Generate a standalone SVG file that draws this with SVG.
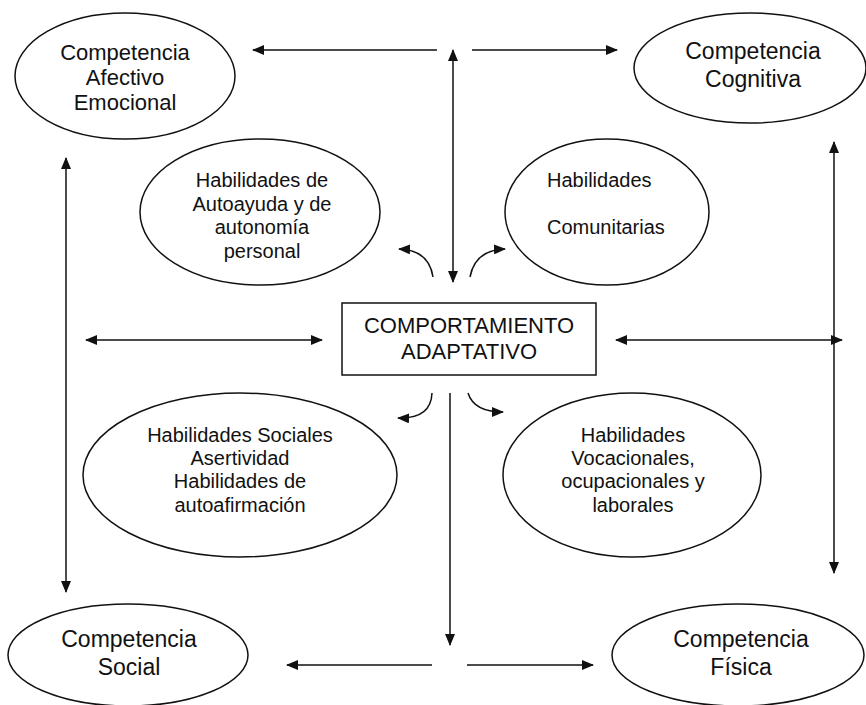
<svg xmlns="http://www.w3.org/2000/svg" width="866" height="705" viewBox="0 0 866 705">
<style>
.n ellipse,.n rect{fill:#fff;stroke:#111;stroke-width:1.5}
text{font-family:"Liberation Sans",Arial,sans-serif;fill:#111;text-anchor:middle}
text.st{text-anchor:start}
.big{font-size:23px}
.mid{font-size:20px}
#connectors path,#connectors line{fill:none;stroke:#111;stroke-width:1.5}
.d{marker-start:url(#ah);marker-end:url(#ah)}
.s{marker-end:url(#ah)}
</style>
<defs>
<marker id="ah" markerUnits="userSpaceOnUse" markerWidth="12" markerHeight="10" refX="11" refY="5" orient="auto-start-reverse" viewBox="0 0 12 10">
<path d="M0,0 L12,5 L0,10 z" fill="#111"/>
</marker>
</defs>
<rect width="866" height="705" fill="#fff"/>

<g id="afectivo" class="n">
<ellipse cx="125" cy="76" rx="110" ry="63"/>
<text x="125" y="60" font-size="22">Competencia</text>
<text x="125" y="85" font-size="22">Afectivo</text>
<text x="125" y="110" font-size="22">Emocional</text>
</g>

<g id="cognitiva" class="n">
<ellipse cx="750" cy="68" rx="116" ry="55"/>
<text class="big" x="753" y="59" font-size="23.5">Competencia</text>
<text class="big" x="753" y="87" font-size="23.5">Cognitiva</text>
</g>

<g id="autoayuda" class="n">
<ellipse cx="260" cy="212" rx="120" ry="73"/>
<text class="mid" x="262" y="187">Habilidades de</text>
<text class="mid" x="262" y="211">Autoayuda y de</text>
<text class="mid" x="262" y="234">autonomía</text>
<text class="mid" x="262" y="258">personal</text>
</g>

<g id="comunitarias" class="n">
<ellipse cx="607" cy="212" rx="102" ry="73"/>
<text class="mid st" x="547" y="187">Habilidades</text>
<text class="mid st" x="547" y="234">Comunitarias</text>
</g>

<g id="comportamiento" class="n">
<rect x="342" y="303" width="254" height="72"/>
<text x="469" y="333" font-size="22">COMPORTAMIENTO</text>
<text x="469" y="359" font-size="22">ADAPTATIVO</text>
</g>

<g id="sociales" class="n">
<ellipse cx="240" cy="475" rx="157" ry="82"/>
<text class="mid" x="240" y="442">Habilidades Sociales</text>
<text class="mid" x="240" y="465">Asertividad</text>
<text class="mid" x="240" y="488">Habilidades de</text>
<text class="mid" x="240" y="512">autoafirmación</text>
</g>

<g id="vocacionales" class="n">
<ellipse cx="632" cy="475" rx="129" ry="82"/>
<text class="mid" x="633" y="442">Habilidades</text>
<text class="mid" x="633" y="465">Vocacionales,</text>
<text class="mid" x="633" y="488">ocupacionales y</text>
<text class="mid" x="633" y="512">laborales</text>
</g>

<g id="social" class="n">
<ellipse cx="128" cy="655" rx="120" ry="51"/>
<text class="big" x="129" y="647">Competencia</text>
<text class="big" x="129" y="675">Social</text>
</g>

<g id="fisica" class="n">
<ellipse cx="738" cy="655" rx="126" ry="51"/>
<text class="big" x="741" y="647">Competencia</text>
<text class="big" x="741" y="675">Física</text>
</g>

<g id="connectors">
<line class="s" x1="437" y1="50" x2="253" y2="50"/>
<line class="s" x1="472" y1="50" x2="617" y2="50"/>
<line class="d" x1="453" y1="50" x2="453" y2="282"/>
<line class="d" x1="66" y1="158" x2="66" y2="592"/>
<line class="d" x1="834" y1="142" x2="834" y2="573"/>
<path class="s" d="M433,277 Q429,250 399,249"/>
<path class="s" d="M470,277 Q475,250 505,249"/>
<line class="d" x1="86" y1="340" x2="322" y2="340"/>
<line class="d" x1="616" y1="340" x2="842" y2="340"/>
<path class="s" d="M432,393 Q431,419 398,418"/>
<path class="s" d="M468,393 Q474,412 503,412"/>
<line class="s" x1="450" y1="393" x2="450" y2="645"/>
<line class="s" x1="432" y1="665" x2="287" y2="665"/>
<line class="s" x1="467" y1="665" x2="593" y2="665"/>
</g>
</svg>
